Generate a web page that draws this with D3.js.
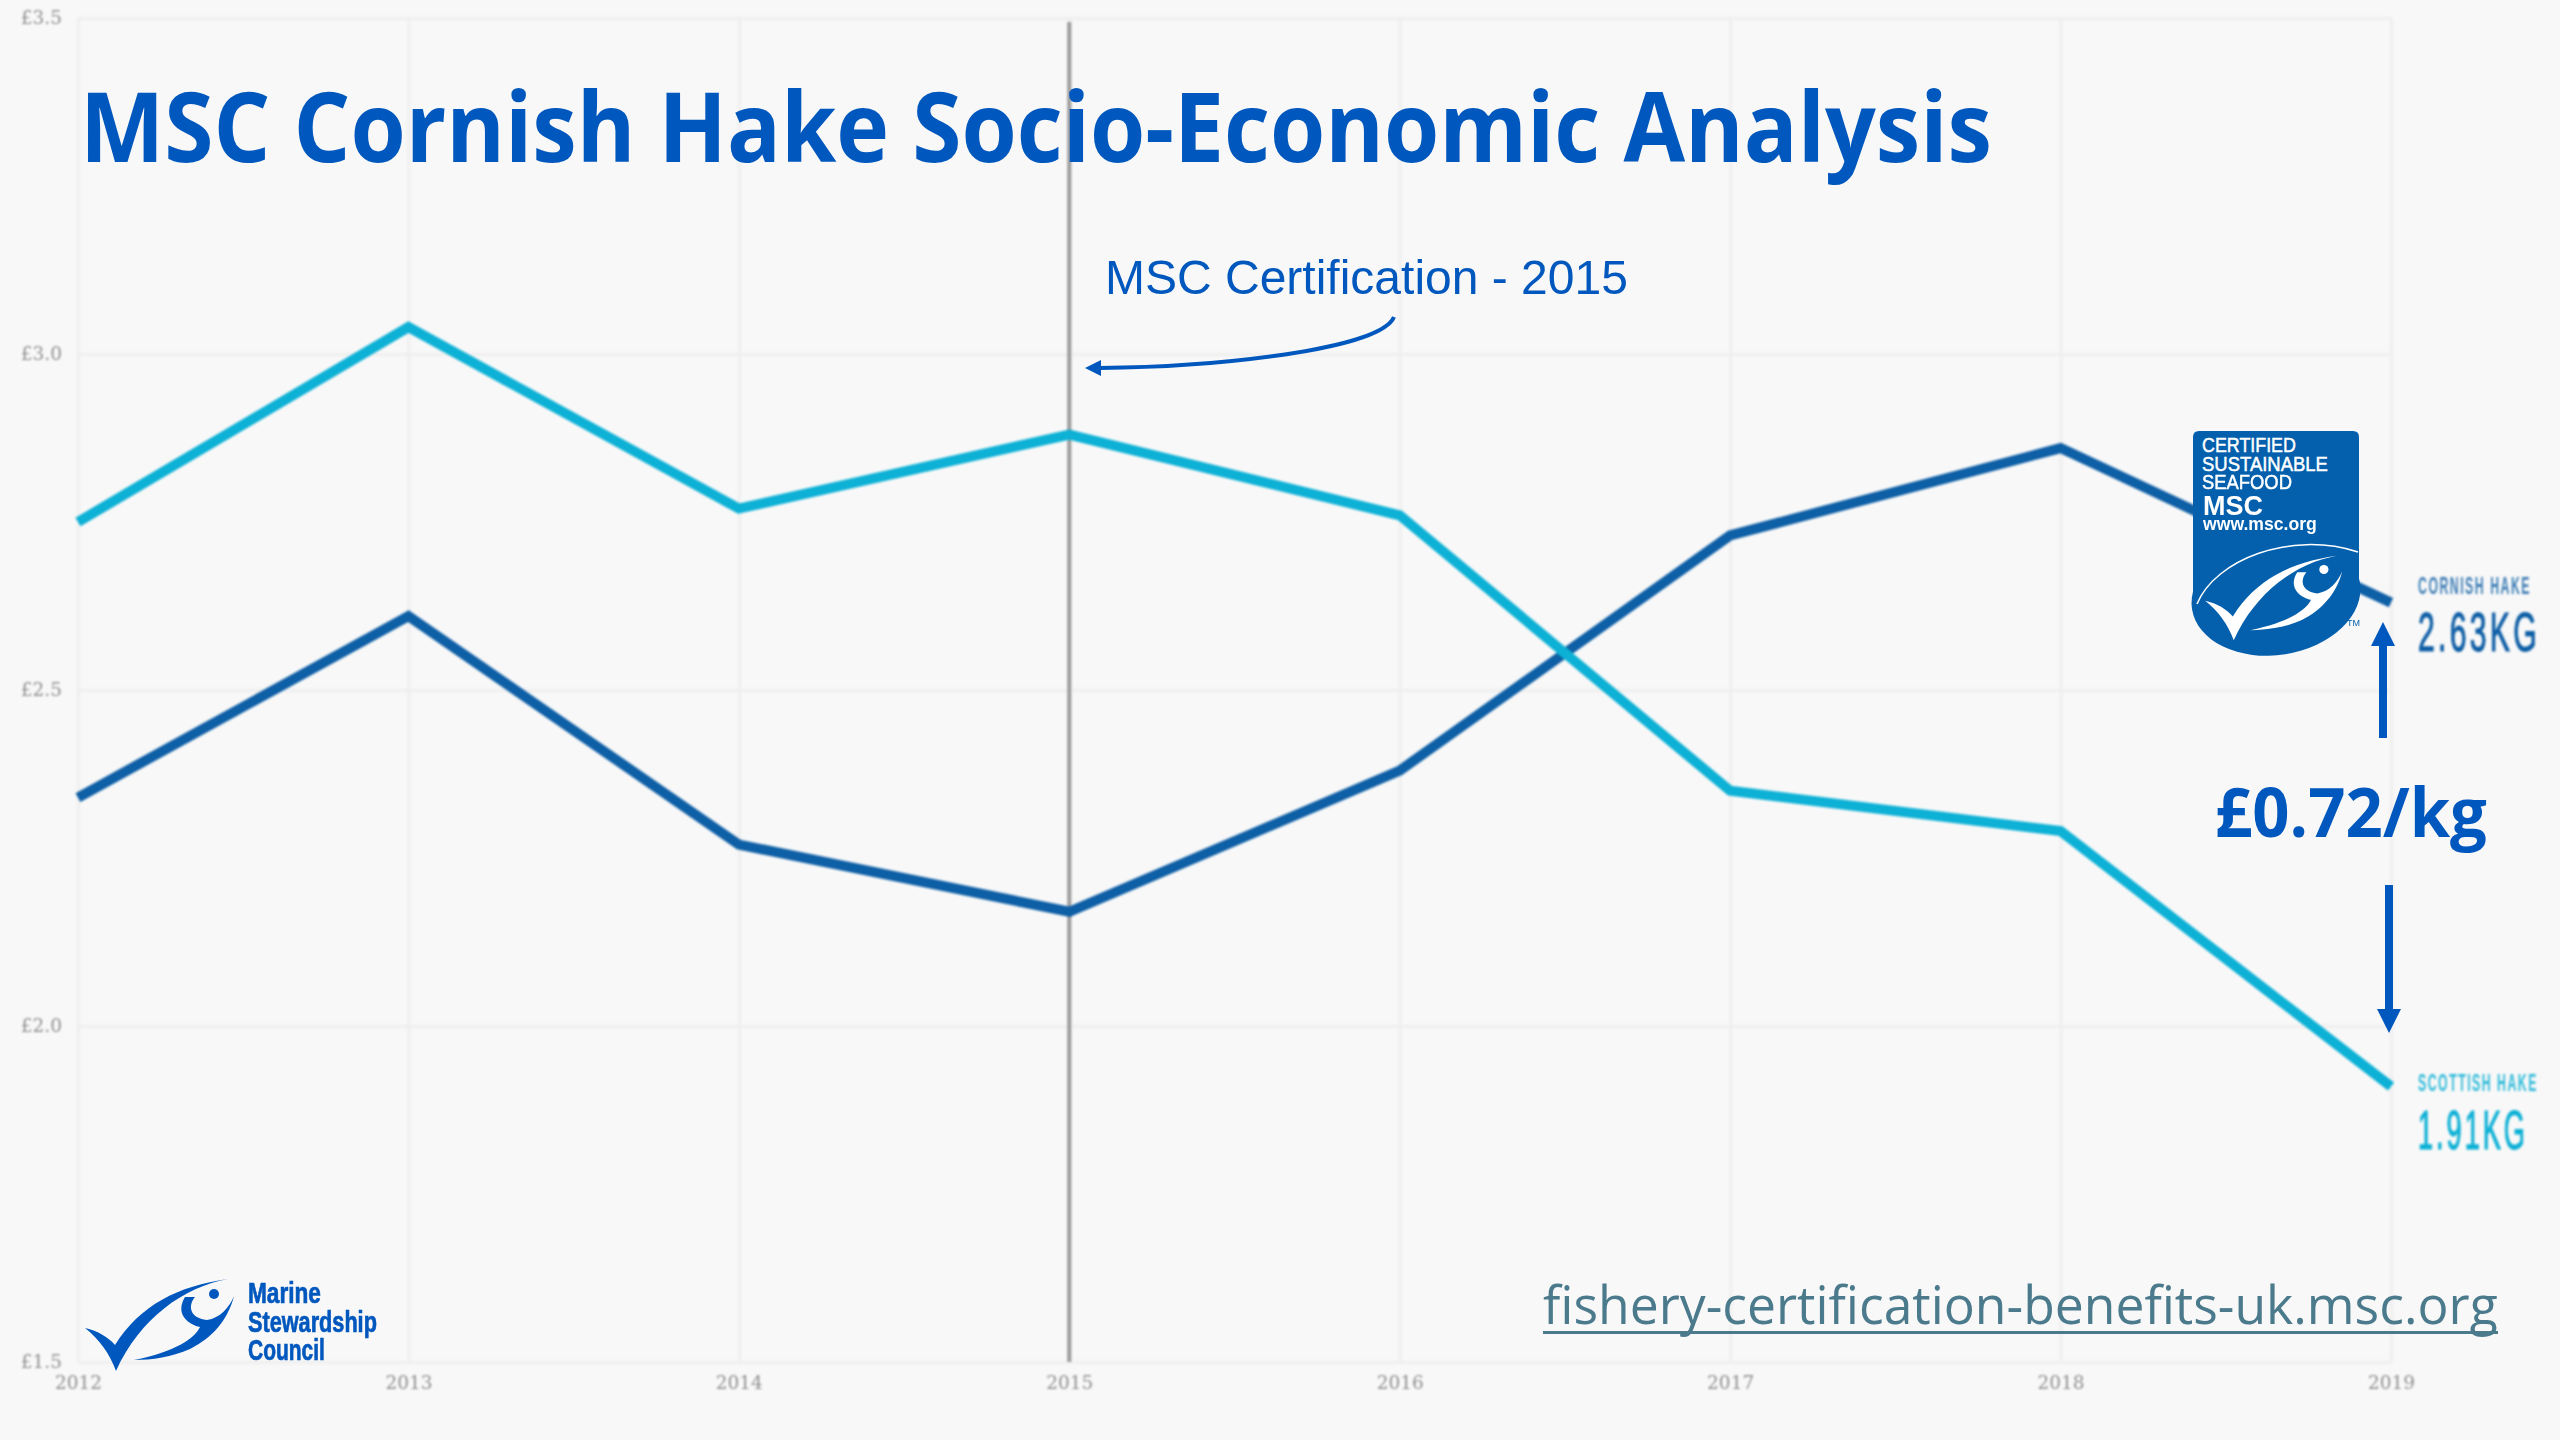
<!DOCTYPE html>
<html><head><meta charset="utf-8">
<style>html,body{margin:0;padding:0;background:#f8f8f8}svg{display:block}</style>
<script src="https://cdn.jsdelivr.net/npm/d3@7"></script></head><body>
<svg id="c" width="2560" height="1440"></svg>
<script>
const years=[2012,2013,2014,2015,2016,2017,2018,2019];
const cornish=[2.34,2.61,2.27,2.17,2.38,2.73,2.86,2.63];
const scottish=[2.75,3.04,2.77,2.88,2.76,2.35,2.29,1.91];
const yTicks=[1.5,2.0,2.5,3.0,3.5];
const BLUE="#0057bd",DARK="#0f5fa6",LIGHT="#0db1d6",URLC="#4a7a8c";
const svg=d3.select("#c");
const defs=svg.append("defs");
const blur=(id,s)=>defs.append("filter").attr("id",id).attr("filterUnits","userSpaceOnUse").attr("x",-3000).attr("y",-3000).attr("width",8000).attr("height",8000).append("feGaussianBlur").attr("stdDeviation",s);
blur("b1",1.5);blur("b2",0.8);blur("b3",1.1);
svg.append("rect").attr("width",2560).attr("height",1440).attr("fill","#f8f8f8");
const x=d3.scaleLinear().domain([2012,2019]).range([78,2391]);
const y=d3.scaleLinear().domain([1.5,3.5]).range([1362,18]);
const chart=svg.append("g");
const gx=chart.append("g").attr("transform","translate(0,1362)").call(d3.axisBottom(x).tickValues(years).tickFormat(d3.format("d")).tickSize(-1344).tickPadding(14));
const gy=chart.append("g").attr("transform","translate(78,0)").call(d3.axisLeft(y).tickValues(yTicks).tickFormat(d=>"£"+d.toFixed(1)).tickSize(-2313).tickPadding(16));
[gx,gy].forEach(g=>{g.select(".domain").remove();g.selectAll(".tick line").attr("stroke","#eeeeee").attr("stroke-width",3).attr("filter","url(#b1)");
 g.selectAll("text").attr("fill","#8f8f8f").attr("font-family","'DejaVu Serif','DejaVu Sans'").attr("font-weight",400).attr("font-size",18.5).attr("filter","url(#b3)");});
const line=d3.line().x((d,i)=>x(years[i])).y(d=>y(d));
svg.append("line").attr("x1",x(2015)).attr("x2",x(2015)).attr("y1",y(3.5)+4).attr("y2",y(1.5)).attr("stroke","#9c9c9c").attr("stroke-width",4).attr("filter","url(#b2)");
const lines=svg.append("g").attr("filter","url(#b2)");
lines.append("path").datum(cornish).attr("d",line).attr("fill","none").attr("stroke",DARK).attr("stroke-width",10);
lines.append("path").datum(scottish).attr("d",line).attr("fill","none").attr("stroke",LIGHT).attr("stroke-width",10);
function fit(t,x0,x1,base,size,fam,weight,col,parent,ls,sw){
 const e=(parent||svg).append("text").attr("font-size",size).attr("font-family",fam).attr("font-weight",weight).attr("fill",col).attr("letter-spacing",ls||0).text(t);
 if(sw)e.attr("stroke",col).attr("stroke-width",sw);
 const w=e.node().getComputedTextLength();
 e.attr("transform",`translate(${x0},${base}) scale(${(x1-x0)/w},1)`);
 return e;}
const SANS="'Open Sans','Noto Sans',sans-serif",ARIAL="'Liberation Sans',Arial,sans-serif",NARROW="'Liberation Sans Narrow','Liberation Sans',sans-serif";
fit("MSC Cornish Hake Socio-Economic Analysis",80,1992,162,96,SANS,700,BLUE);
fit("MSC Certification - 2015",1105,1628,294,49,ARIAL,400,BLUE);
svg.append("path").attr("d","M1394,317 C1380,350 1215,367 1100,368").attr("fill","none").attr("stroke",BLUE).attr("stroke-width",4);
svg.append("path").attr("d","M1085,368 L1101,360 L1101,376 Z").attr("fill",BLUE);
// right side labels
const lab=svg.append("g").attr("filter","url(#b2)");
fit("CORNISH HAKE",2418,2531,594,24,NARROW,700,DARK,lab,3).attr("opacity",.8);
fit("2.63KG",2418,2540,651,55,NARROW,400,DARK,lab,6,1.2);
fit("SCOTTISH HAKE",2418,2538,1091,24,NARROW,700,LIGHT,lab,3).attr("opacity",.85);
fit("1.91KG",2418,2528,1149,55,NARROW,400,LIGHT,lab,6,1.2);
// gap annotation
fit("£0.72/kg",2215,2487,837,68,SANS,700,BLUE);
svg.append("path").attr("d","M2379,738 V646 H2371 L2383,622 L2395,646 H2387 V738 Z").attr("fill",BLUE);
svg.append("path").attr("d","M2385,885 V1009 H2377 L2389,1033 L2401,1009 H2393 V885 Z").attr("fill",BLUE);
// MSC fish mark (shared shape)
const fishTick="M85,1328 C98,1331 108,1337 115,1345 C140,1305 178,1286 228,1279 C184,1287 140,1318 116,1371 C110,1354 99,1339 85,1328 Z";
const fishBody="M134,1360 C175,1352 195,1338 200,1327 C190,1325 174,1315 185,1297 L195,1297 C188,1305 189,1318 207,1320 C220,1318 229,1308 234,1296 C228,1320 212,1338 190,1349 C172,1357 152,1360 134,1360 Z";
function fish(g,col){g.append("path").attr("d",fishTick).attr("fill",col);g.append("path").attr("d",fishBody).attr("fill",col);g.append("circle").attr("cx",214).attr("cy",1294).attr("r",5).attr("fill",col);}
fish(svg.append("g"),BLUE);
fit("Marine",248,321,1303,30,NARROW,700,BLUE,null,0,.7);
fit("Stewardship",248,377,1332,30,NARROW,700,BLUE,null,0,.7);
fit("Council",248,325,1360,30,NARROW,700,BLUE,null,0,.7);
// Badge
const BB="#0460ac";
svg.append("path").attr("d","M2193,600 V437 Q2193,431 2199,431 H2353 Q2359,431 2359,437 V590 Z").attr("fill",BB);
svg.append("ellipse").attr("cx",2276).attr("cy",596).attr("rx",85).attr("ry",59).attr("transform","rotate(-9 2276 596)").attr("fill",BB);
svg.append("path").attr("d","M2197,604 C2215,560 2290,530 2358,552").attr("fill","none").attr("stroke","#fff").attr("stroke-width",1.5);
fish(svg.append("g").attr("transform","translate(2127,-621) scale(.92)"),"#fff");
fit("CERTIFIED",2202,2296,452,21,ARIAL,400,"#fff",null,0,.5);
fit("SUSTAINABLE",2202,2328,471,21,ARIAL,400,"#fff",null,0,.5);
fit("SEAFOOD",2202,2292,489,21,ARIAL,400,"#fff",null,0,.5);
fit("MSC",2203,2263,515,28,ARIAL,700,"#fff");
fit("www.msc.org",2203,2317,530,18,ARIAL,700,"#fff");
fit("TM",2347,2360,626,9,ARIAL,400,BB);
// URL
fit("fishery-certification-benefits-uk.msc.org",1543,2498,1324,53,SANS,400,URLC);
svg.append("rect").attr("x",1543).attr("y",1331).attr("width",955).attr("height",3).attr("fill",URLC);
</script></body></html>
